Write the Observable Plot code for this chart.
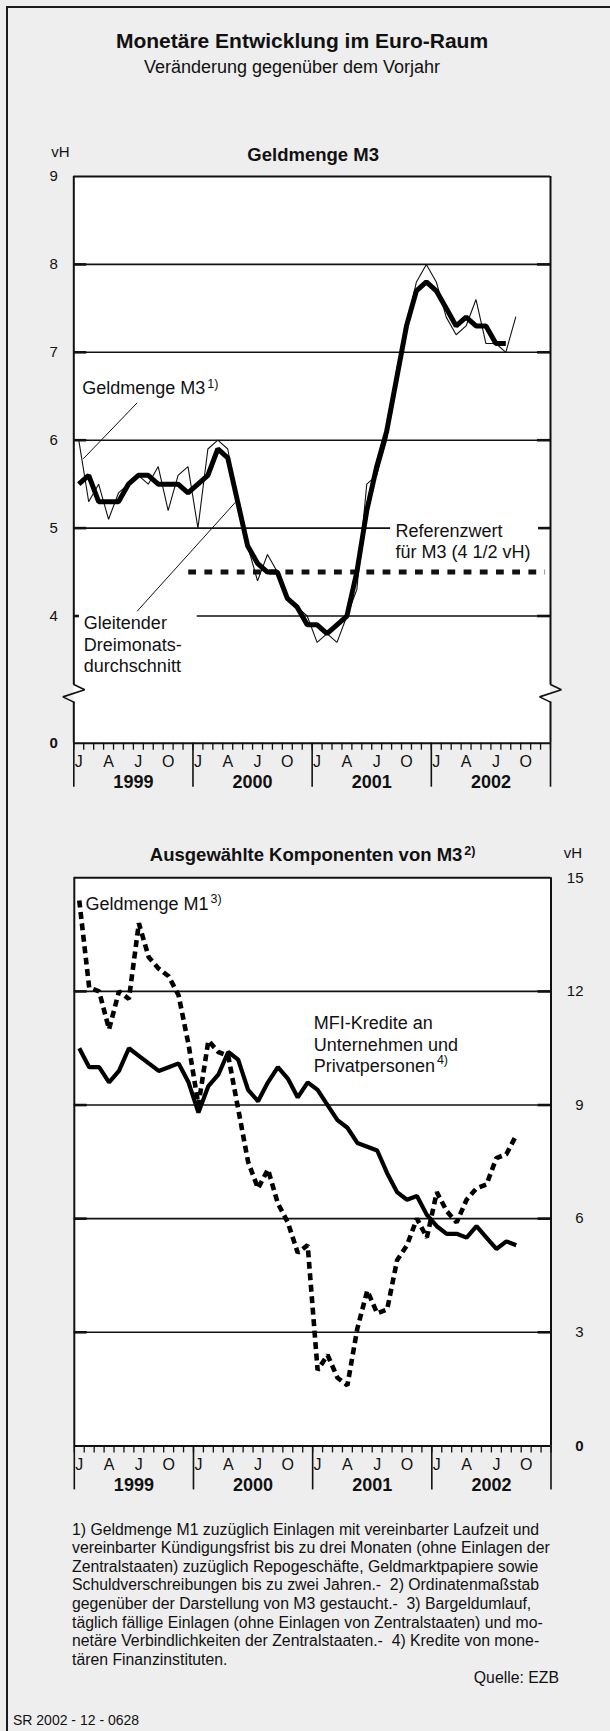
<!DOCTYPE html>
<html lang="de">
<head>
<meta charset="utf-8">
<script src="https://cdn.jsdelivr.net/npm/d3@7"></script>
<script src="https://cdn.jsdelivr.net/npm/@observablehq/plot@0.6"></script>
<style>
  html, body { margin: 0; padding: 0; }
  body { width: 610px; height: 1731px; background: #eeeeee; position: relative; overflow: hidden;
         font-family: "Liberation Sans", Arial, Helvetica, sans-serif; color: #111; }
  #frame { position: absolute; left: 6px; top: 6px; right: 0; bottom: -5px;
           border-left: 2.5px solid #1b1b1b; border-top: 2px solid #1b1b1b; }
  .c { position: absolute; white-space: nowrap; line-height: 1; transform: translate(-50%, -50%); }
  .chart { position: absolute; left: 0; }
  #title { left: 302px; top: 40px; font-size: 21px; font-weight: bold; }
  #subtitle { left: 292px; top: 67px; font-size: 18px; }
  #notes { position: absolute; left: 72px; top: 1520.7px; font-size: 15.8px; line-height: 18.57px; white-space: pre; }
  #source { position: absolute; right: 51px; top: 1678px; font-size: 15.8px; line-height: 1; transform: translateY(-50%); }
  #sr { position: absolute; left: 13px; top: 1720px; font-size: 14px; line-height: 1; transform: translateY(-50%); }
</style>
</head>
<body>
<div id="frame"></div>
<div id="title" class="c">Monetäre Entwicklung im Euro-Raum</div>
<div id="subtitle" class="c">Veränderung gegenüber dem Vorjahr</div>
<div id="chart1" class="chart" style="top:0px"></div>
<div id="chart2" class="chart" style="top:820px"></div>
<div id="notes">1) Geldmenge M1 zuzüglich Einlagen mit vereinbarter Laufzeit und
vereinbarter Kündigungsfrist bis zu drei Monaten (ohne Einlagen der
Zentralstaaten) zuzüglich Repogeschäfte, Geldmarktpapiere sowie
Schuldverschreibungen bis zu zwei Jahren.-  2) Ordinatenmaßstab
gegenüber der Darstellung von M3 gestaucht.-  3) Bargeldumlauf,
täglich fällige Einlagen (ohne Einlagen von Zentralstaaten) und mo-
netäre Verbindlichkeiten der Zentralstaaten.-  4) Kredite von mone-
tären Finanzinstituten.</div>
<div id="source">Quelle: EZB</div>
<div id="sr">SR 2002 - 12 - 0628</div>
<script>
// ---------------- data ----------------
const years = ["1999", "2000", "2001", "2002"];
const monthLetters = ["J", "A", "J", "O"];
const monthOffsets = [0, 3, 6, 9];

// Geldmenge M3, monthly, Jan 1999 - Sep 2002
const m3Growth = [6.0, 5.3, 5.5, 5.1, 5.4, 5.5, 5.6, 5.5, 5.7, 5.2, 5.6, 5.7,
                  5.0, 5.9, 6.0, 5.9, 5.3, 4.8, 4.4, 4.7, 4.5, 4.2, 4.1, 4.0,
                  3.7, 3.8, 3.7, 4.0, 4.3, 5.5, 5.6, 6.0, 6.8, 7.3, 7.8, 8.0,
                  7.8, 7.4, 7.2, 7.3, 7.6, 7.1, 7.1, 7.0, 7.4];
// Gleitender Dreimonatsdurchschnitt, Jan 1999 - Aug 2002
const m3Avg = [5.5, 5.6, 5.3, 5.3, 5.3, 5.5, 5.6, 5.6, 5.5, 5.5, 5.5, 5.4,
               5.5, 5.6, 5.9, 5.8, 5.3, 4.8, 4.6, 4.5, 4.5, 4.2, 4.1, 3.9,
               3.9, 3.8, 3.9, 4.0, 4.5, 5.2, 5.7, 6.1, 6.7, 7.3, 7.7, 7.8,
               7.7, 7.5, 7.3, 7.4, 7.3, 7.3, 7.1, 7.1];
const referenceValue = 4.5;

// Geldmenge M1, Jan 1999 - Sep 2002
const m1Growth = [14.4, 12.1, 12.0, 11.0, 12.0, 11.8, 13.8, 12.9, 12.6, 12.4, 11.9, 10.6,
                  9.0, 10.7, 10.4, 10.3, 8.9, 7.5, 6.8, 7.3, 6.4, 5.9, 5.1, 5.3,
                  2.0, 2.4, 1.8, 1.6, 3.1, 4.1, 3.5, 3.6, 4.9, 5.3, 6.0, 5.5,
                  6.7, 6.2, 5.9, 6.5, 6.8, 6.9, 7.6, 7.7, 8.2];
// MFI-Kredite an Unternehmen und Privatpersonen, Jan 1999 - Sep 2002
const mfiCredit = [10.5, 10.0, 10.0, 9.6, 9.9, 10.5, 10.3, 10.1, 9.9, 10.0, 10.1, 9.6,
                   8.8, 9.5, 9.8, 10.4, 10.2, 9.4, 9.1, 9.6, 10.0, 9.7, 9.2, 9.6,
                   9.4, 9.0, 8.6, 8.4, 8.0, 7.9, 7.8, 7.2, 6.7, 6.5, 6.6, 6.1,
                   5.8, 5.6, 5.6, 5.5, 5.8, 5.5, 5.2, 5.4, 5.3];

const topTicks = [9, 8, 7, 6, 5, 4];
const topGrid = [4, 5, 6, 7, 8];
const bottomTicks = [15, 12, 9, 6, 3];
const bottomGrid = [3, 6, 9, 12];
const zeroTick = [0];

// ---------------- helpers ----------------
const FONT = '"Liberation Sans", Arial, Helvetica, sans-serif';
const INK = "#111";
const asPoints = arr => arr.map((v, i) => ({x: i + 0.5, v}));
const monthEdges = d3.range(0, 49);
const yearEdges = d3.range(0, 49, 12);
const monthLabels = years.flatMap((y, yi) => monthLetters.map((t, k) => ({x: yi * 12 + monthOffsets[k] + 0.5, t})));
const yearLabels = years.map((t, yi) => ({x: yi * 12 + 6, t}));

// broken ordinate of the M3 panel: values below 3 are compressed
const BREAK = 3, SQUEEZE = 0.149;
const yb = v => v >= BREAK ? v : BREAK - (BREAK - v) * SQUEEZE;

const ctx = document.createElement("canvas").getContext("2d");
function textWidth(s, size, weight = "normal") {
  ctx.font = `${weight} ${size}px ${FONT}`;
  return ctx.measureText(s).width;
}
function labelWithSup(main, sup, x, y, {size = 18, supSize = 12.5, weight = "normal", center = false, dy = 0, supDy = -4.5, gap = 2} = {}) {
  const w = textWidth(main, size, weight);
  const ws = textWidth(sup, supSize, weight);
  const dx0 = center ? -(w + gap + ws) / 2 : 0;
  return [
    Plot.text([main], {x, y, text: d => d, dx: dx0, dy, textAnchor: "start", fontSize: size, fontWeight: weight}),
    Plot.text([sup], {x, y, text: d => d, dx: dx0 + w + gap, dy: dy + supDy, textAnchor: "start", fontSize: supSize, fontWeight: weight})
  ];
}
function timeAxis(y0) {
  return [
    Plot.ruleX(monthEdges, {x: d => d, y1: y0, y2: y0, insetBottom: -7, stroke: INK, strokeWidth: 1.3}),
    Plot.ruleX(yearEdges, {x: d => d, y1: y0, y2: y0, insetBottom: -44, stroke: INK, strokeWidth: 1.6}),
    Plot.text(monthLabels, {x: "x", y: y0, dy: 18.5, text: "t", fontSize: 16}),
    Plot.text(yearLabels, {x: "x", y: y0, dy: 39.5, text: "t", fontSize: 18, fontWeight: "bold"})
  ];
}
const baseStyle = {background: "transparent", overflow: "visible", fontFamily: FONT, color: INK};

// ---------------- chart 1: Geldmenge M3 ----------------
const breakShape = [{o: 0, v: 3.22}, {o: 1.1, v: 3.16}, {o: -1.1, v: 3.08}, {o: 0, v: 3.02}];
const breakPts = [0, 48].flatMap(side => breakShape.map(p => ({x: side + p.o, v: p.v, side})));

const chart1 = Plot.plot({
  width: 610, height: 800, margin: 0,
  style: baseStyle,
  x: {domain: [0, 48], range: [73.3, 550], axis: null},
  y: {domain: [yb(0), 9], range: [742.7, 176], axis: null},
  marks: [
    Plot.rect([0], {x1: 0, x2: 48, y1: yb(0), y2: 9, fill: "white"}),
    Plot.ruleY(topGrid, {x1: 0, x2: 48, stroke: INK, strokeWidth: 1.6}),
    Plot.ruleY(topGrid, {x1: 0, x2: 1.3, stroke: INK, strokeWidth: 2.6}),
    Plot.ruleY(topGrid, {x1: 46.7, x2: 48, stroke: INK, strokeWidth: 2.6}),
    // label backgrounds
    Plot.rect([0], {x1: 0.57, x2: 12.43, y1: 3.29, y2: 4.04, fill: "white"}),
    Plot.rect([0], {x1: 31.9, x2: 46.8, y1: 4.61, y2: 5.11, fill: "white"}),
    // reference value
    Plot.ruleY([referenceValue], {x1: 11.57, x2: 47.5, stroke: INK, strokeWidth: 5, strokeDasharray: "7.8,8.4"}),
    // series
    Plot.line(asPoints(m3Growth), {x: "x", y: d => yb(d.v), stroke: INK, strokeWidth: 1.1, strokeLinejoin: "miter"}),
    Plot.line(asPoints(m3Avg), {x: "x", y: d => yb(d.v), stroke: "#000", strokeWidth: 5, strokeLinejoin: "miter", strokeLinecap: "butt"}),
    // annotations
    ...labelWithSup("Geldmenge M3", "1)", 0.85, 6.59),
    Plot.link([0], {x1: 6.38, y1: 6.425, x2: 0.95, y2: 5.788, stroke: INK, strokeWidth: 1}),
    Plot.text(["Gleitender\nDreimonats-\ndurchschnitt"], {x: 1.01, y: 3.684, text: d => d, textAnchor: "start", lineHeight: 1.18, fontSize: 18}),
    Plot.link([0], {x1: 6.38, y1: 4.055, x2: 16.28, y2: 5.295, stroke: INK, strokeWidth: 1}),
    Plot.text(["Referenzwert\nfür M3 (4 1/2 vH)"], {x: 32.39, y: 4.857, text: d => d, textAnchor: "start", lineHeight: 1.2, fontSize: 18}),
    // frame with axis break
    Plot.ruleY([9, yb(0)], {x1: 0, x2: 48, stroke: INK, strokeWidth: 2}),
    Plot.ruleX([0, 48], {x: d => d, y1: 9, y2: 3.22, stroke: INK, strokeWidth: 2}),
    Plot.ruleX([0, 48], {x: d => d, y1: 3.02, y2: yb(0), stroke: INK, strokeWidth: 2}),
    Plot.line(breakPts, {x: "x", y: "v", z: "side", stroke: INK, strokeWidth: 1.6, strokeLinejoin: "miter"}),
    // axes
    ...timeAxis(yb(0)),
    Plot.text(topTicks, {x: 0, y: d => yb(d), dx: -16, textAnchor: "end", fontSize: 15}),
    Plot.text(zeroTick, {x: 0, y: d => yb(d), dx: -16, textAnchor: "end", fontSize: 15, fontWeight: "bold"}),
    Plot.text(["vH"], {x: 0, y: 9, text: d => d, dx: -13.3, dy: -24, fontSize: 15}),
    Plot.text(["Geldmenge M3"], {x: 24.1, y: 9, text: d => d, dy: -21, fontSize: 18.5, fontWeight: "bold"})
  ]
});
document.getElementById("chart1").append(chart1);

// ---------------- chart 2: Ausgewählte Komponenten ----------------
const chart2 = Plot.plot({
  width: 610, height: 700, margin: 0,
  style: baseStyle,
  x: {domain: [0, 48], range: [73.8, 550.5], axis: null},
  y: {domain: [0, 15], range: [625.4, 57.3], axis: null},
  marks: [
    Plot.rect([0], {x1: 0, x2: 48, y1: 0, y2: 15, fill: "white"}),
    Plot.ruleY(bottomGrid, {x1: 0, x2: 48, stroke: INK, strokeWidth: 1.6}),
    Plot.ruleY(bottomGrid, {x1: 0, x2: 1.3, stroke: INK, strokeWidth: 2.6}),
    Plot.ruleY(bottomGrid, {x1: 46.7, x2: 48, stroke: INK, strokeWidth: 2.6}),
    Plot.line(asPoints(mfiCredit), {x: "x", y: "v", stroke: "#000", strokeWidth: 4.2, strokeLinejoin: "miter", strokeLinecap: "butt"}),
    Plot.line(asPoints(m1Growth), {x: "x", y: "v", stroke: "#000", strokeWidth: 4.6, strokeDasharray: "7,4.5", strokeLinejoin: "miter", strokeLinecap: "butt"}),
    ...labelWithSup("Geldmenge M1", "3)", 1.13, 14.31),
    Plot.text(["MFI-Kredite an\nUnternehmen und\nPrivatpersonen"], {x: 24.12, y: 10.62, text: d => d, textAnchor: "start", lineHeight: 1.2, fontSize: 18}),
    Plot.text(["4)"], {x: 24.12, y: 10.62, text: d => d, dx: textWidth("Privatpersonen", 18) + 2, dy: 21.6 - 5, textAnchor: "start", fontSize: 12.5}),
    // frame
    Plot.ruleY([15, 0], {x1: 0, x2: 48, stroke: INK, strokeWidth: 2}),
    Plot.ruleX([0, 48], {x: d => d, y1: 0, y2: 15, stroke: INK, strokeWidth: 2}),
    // axes
    ...timeAxis(0),
    Plot.text(bottomTicks, {x: 48, y: d => d, dx: 32.5, textAnchor: "end", fontSize: 15}),
    Plot.text(zeroTick, {x: 48, y: d => d, dx: 32.5, textAnchor: "end", fontSize: 15, fontWeight: "bold"}),
    Plot.text(["vH"], {x: 48, y: 15, text: d => d, dx: 22, dy: -25, fontSize: 15}),
    ...labelWithSup("Ausgewählte Komponenten von M3", "2)", 24, 15, {size: 18.5, weight: "bold", center: true, dy: -22.3})
  ]
});
document.getElementById("chart2").append(chart2);
</script>
</body>
</html>
